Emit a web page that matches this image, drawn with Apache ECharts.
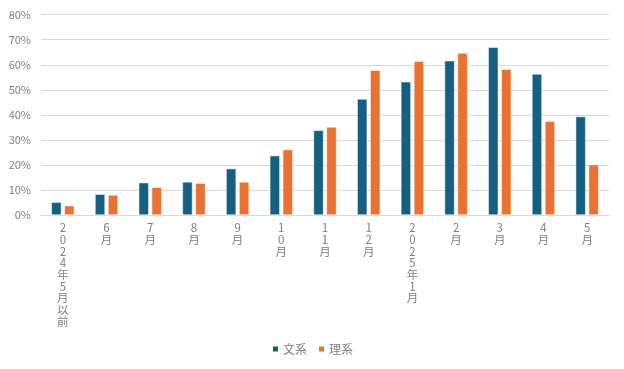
<!DOCTYPE html>
<html><head><meta charset="utf-8">
<script src="https://cdn.jsdelivr.net/npm/echarts@6/dist/echarts.min.js"></script>
<style>html,body{margin:0;padding:0;background:#fff;}#c{width:624px;height:369px;}</style>
</head><body><div id="c"></div>
<script>
const categories = ["2024年5月以前","6月","7月","8月","9月","10月","11月","12月","2025年1月","2月","3月","4月","5月"];
const bunkei = [5.1, 8.3, 12.9, 13.2, 18.5, 23.7, 33.8, 46.3, 53.2, 61.6, 67.0, 56.3, 39.3];
const rikei  = [3.7, 8.0, 11.1, 12.7, 13.2, 26.1, 35.1, 57.8, 61.4, 64.7, 58.2, 37.4, 20.1];
const seriesNames = ["文系","理系"];
const yTicks = {min:0, max:80, interval:10};

const font = '"Noto Sans CJK JP", "Noto Sans", sans-serif';
const textColor = '#7f7f7f';
const chart = echarts.init(document.getElementById('c'), null, {renderer:'canvas'});
chart.setOption({
  animation:false,
  textStyle:{fontFamily:font},
  grid:{left:41, right:15, top:14.7, bottom:154, containLabel:false},
  legend:{
    data:seriesNames, bottom:9, left:'center',
    itemWidth:7, itemHeight:7, itemGap:10,
    icon:'rect',
    textStyle:{color:textColor, fontSize:12, fontFamily:font, padding:[0,0,0,-1]}
  },
  xAxis:{
    type:'category', data:categories,
    axisTick:{show:false},
    axisLine:{lineStyle:{color:'#d9d9d9', width:1}},
    axisLabel:{
      interval:0, color:textColor, fontSize:11.5, lineHeight:11.7, margin:7,
      verticalAlign:'top',
      formatter:v=>v.split('').join('\n')
    }
  },
  yAxis:{
    type:'value', min:yTicks.min, max:yTicks.max, interval:yTicks.interval,
    axisLine:{show:false}, axisTick:{show:false},
    splitLine:{lineStyle:{color:'#d9d9d9', width:1}},
    axisLabel:{color:textColor, fontSize:11, margin:10, formatter:v=>v+'%'}
  },
  series:[
    {name:seriesNames[0], type:'bar', data:bunkei, barWidth:10, barGap:'30%',
     itemStyle:{color:'#156082', borderColor:'#ffffff', borderWidth:0.5}},
    {name:seriesNames[1], type:'bar', data:rikei, barWidth:10, barGap:'30%',
     itemStyle:{color:'#E97132', borderColor:'#ffffff', borderWidth:0.5}}
  ]
});
</script></body></html>
